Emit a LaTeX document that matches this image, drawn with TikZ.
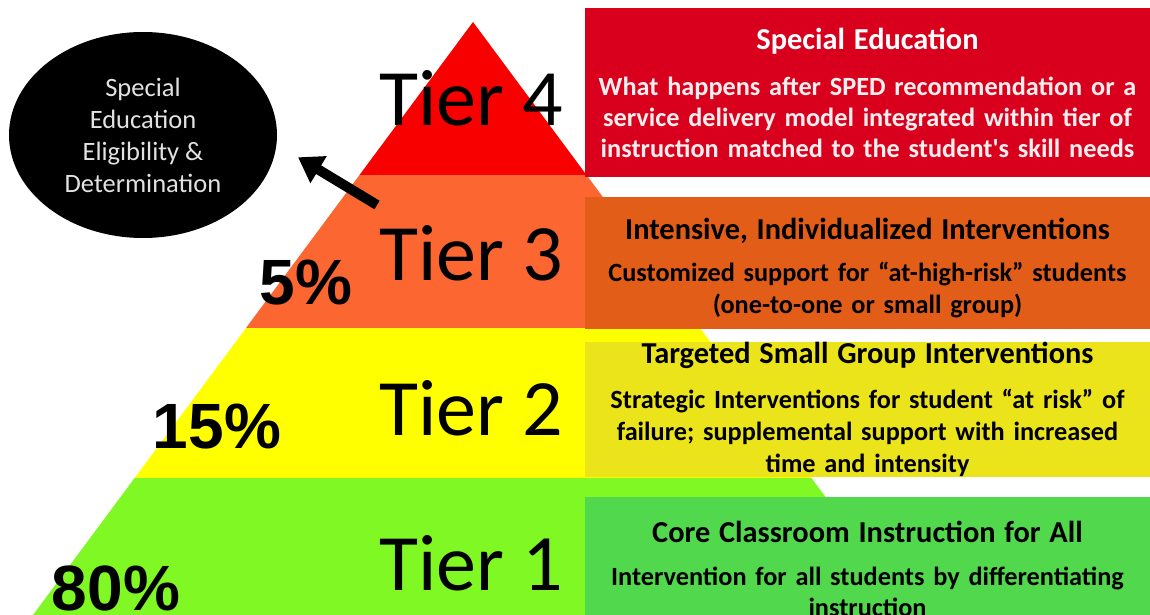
\documentclass[tikz,border=0pt]{standalone}
\usepackage{fontspec}
\setmainfont{Carlito}
\newfontfamily\pctfont{Liberation Sans}
\usetikzlibrary{shapes.geometric, arrows, arrows.meta}

\definecolor{pyrred}{RGB}{248,0,0}
\definecolor{pyrorange}{RGB}{252,102,48}
\definecolor{pyryellow}{RGB}{255,255,0}
\definecolor{pyrgreen}{RGB}{128,248,36}
\definecolor{boxred}{RGB}{216,0,28}
\definecolor{boxorange}{RGB}{226,94,24}
\definecolor{boxyellow}{RGB}{236,228,26}
\definecolor{boxgreen}{RGB}{82,216,76}
\definecolor{softwhite}{RGB}{250,238,238}
\definecolor{ellipsetext}{RGB}{226,226,226}

\tikzstyle{tierlabel} = [
    inner sep=0pt,
    font=\fontsize{80}{80}\selectfont
]
\tikzstyle{percent} = [
    inner sep=0pt,
    font=\pctfont\bfseries\fontsize{64}{64}\selectfont
]
\tikzstyle{infobox} = [
    rectangle,
    minimum width=565pt,
    inner sep=0pt,
    text width=548pt,
    align=center,
    font=\bfseries\fontsize{26.3}{31}\selectfont
]
\tikzstyle{outcome} = [
    ellipse,
    fill=black,
    minimum width=268pt,
    minimum height=206pt,
    inner sep=0pt,
    text=ellipsetext,
    align=center,
    font=\fontsize{26.5}{32}\selectfont
]
\tikzstyle{bigarrow} = [line width=10pt, -{Triangle[width=30pt,length=24pt]}]

\newcommand{\boxhead}[1]{{\fontsize{30.4}{31}\selectfont #1}}

\begin{document}
\begin{tikzpicture}[x=1pt, y=-1pt, node distance=155pt]

\clip (0,0) rectangle (1150,615);
\fill[white] (0,0) rectangle (1150,615);

% pyramid, apex at (473,22)
\fill[pyrred]    (473,22) -- (586.5,175) -- (359.5,175) -- cycle;
\fill[pyrorange] (359.5,175) -- (586.5,175) -- (700,328) -- (246,328) -- cycle;
\fill[pyryellow] (246,328) -- (700,328) -- (811.4,478) -- (134.6,478) -- cycle;
\fill[pyrgreen]  (134.6,478) -- (811.4,478) -- (976,700) -- (-30,700) -- cycle;

% boxes on the right
\node (spedbox) [infobox, fill=boxred, text=softwhite, minimum height=168pt] at (867.5,92.5)
{\boxhead{\color{white}Special Education}\\[15pt]
What happens after SPED recommendation or a\\
service delivery model integrated within tier of\\
instruction matched to the student\textquotesingle s skill needs};

\node (intensebox) [infobox, fill=boxorange, minimum height=132pt] at (867.5,263)
{\rule{0pt}{32pt}\boxhead{Intensive, Individualized Interventions}\\[11pt]
Customized support for “at-high-risk” students\\[1pt]
(one-to-one or small group)};

\node (targetbox) [infobox, fill=boxyellow, minimum height=133pt] at (867.5,409.5)
{\boxhead{Targeted Small Group Interventions}\\[14pt]
Strategic Interventions for student “at risk” of\\[1pt]
failure; supplemental support with increased\\[1pt]
time and intensity};

\node (corebox) [infobox, fill=boxgreen, minimum height=143pt] at (867.5,568.5)
{\boxhead{Core Classroom Instruction for All}\\[12pt]
Intervention for all students by differentiating\\
instruction};

% tier names
\node (tierfour) [tierlabel] at (471,98) {Tier 4};
\node (tierthree) [tierlabel, below of=tierfour] {Tier 3};
\node (tiertwo) [tierlabel, below of=tierthree] {Tier 2};
\node (tierone) [tierlabel, below of=tiertwo] {Tier 1};

% shares of students
\node (fivepct) [percent] at (306,283) {5\%};
\node (fifteenpct) [percent] at (217,427) {15\%};
\node (eightypct) [percent] at (116,588) {80\%};

% eligibility
\node (sped) [outcome] at (143,135)
{Special\\Education\\Eligibility \&\\Determination};

\coordinate (arrowtail) at (377,205);
\draw [bigarrow, shorten >=25pt] (arrowtail) -- (sped.-4);

\end{tikzpicture}
\end{document}
